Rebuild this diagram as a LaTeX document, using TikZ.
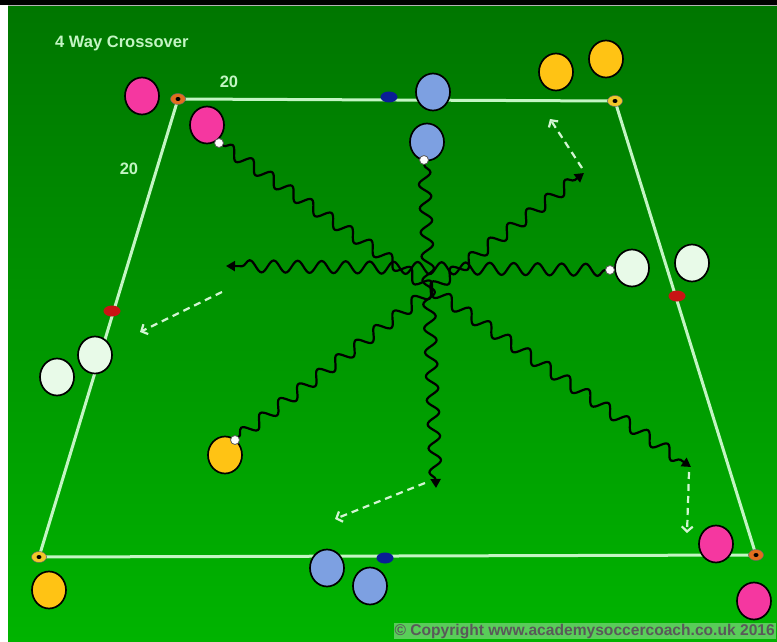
\documentclass[tikz,border=0pt]{standalone}
\usepackage{fontspec}
\setmainfont{Liberation Sans}
\usetikzlibrary{decorations.pathmorphing,arrows.meta,shapes.geometric}
\definecolor{gtop}{RGB}{0,118,0}
\definecolor{gbot}{RGB}{0,180,0}
\definecolor{lineg}{RGB}{195,245,195}
\definecolor{pinkp}{RGB}{245,55,160}
\definecolor{bluep}{RGB}{125,160,225}
\definecolor{yellowp}{RGB}{255,195,20}
\definecolor{whitep}{RGB}{232,250,232}
\definecolor{conered}{RGB}{200,20,20}
\definecolor{coneblue}{RGB}{10,30,150}
\definecolor{coneorange}{RGB}{225,110,30}
\definecolor{coneyellow}{RGB}{240,200,40}
\definecolor{dashg}{RGB}{210,245,210}
\tikzset{
  player/.style={ellipse, draw=black, line width=1.7pt, minimum width=34pt, minimum height=37pt, inner sep=0pt},
  ball/.style={circle, draw=gray!70!black, fill=white, line width=0.8pt, minimum size=9pt, inner sep=0pt},
  cone/.style={ellipse, minimum width=17pt, minimum height=11pt, inner sep=0pt},
  corner/.style={ellipse, minimum width=15pt, minimum height=11pt, inner sep=0pt, draw=black!60, line width=0.5pt},
  fieldline/.style={draw=lineg, line width=3pt},
  wavy/.style={draw=black, line width=2.2pt, decorate, decoration={snake, amplitude=6pt, segment length=24pt, post length=8pt}, -{Triangle[length=9pt,width=10pt]}},
  run/.style={draw=dashg, line width=2.2pt, dash pattern=on 7pt off 5pt, -{Straight Barb[length=5pt,width=11pt]}},
  lbl/.style={text=lineg, font=\bfseries\fontsize{16.5}{18}\selectfont, inner sep=0pt}
}
\begin{document}
\begin{tikzpicture}[x=1pt,y=-1pt]
\useasboundingbox (0,0) rectangle (777,642);
\clip (0,0) rectangle (777,642);
\fill[white] (0,0) rectangle (777,642);
\fill[black] (0,0) rectangle (777,5);
\fill[black!30] (8,5) rectangle (777,7);
\shade[top color=gtop, bottom color=gbot] (8,7) rectangle (777,642);

% title and labels
\node[lbl, anchor=west] (title) at (55,43) {4 Way Crossover};
\node[lbl] (l20a) at (229,82) {20};
\node[lbl] (l20b) at (129,169) {20};

% field corners
\coordinate (TL) at (178,99);
\coordinate (TR) at (615,101);
\coordinate (BR) at (756,555);
\coordinate (BL) at (39,557);
\draw[fieldline] (TL) -- (TR) -- (BR) -- (BL) -- cycle;

% cones
\node[corner, fill=coneorange] (cTL) at (TL) {};
\node[corner, fill=coneyellow] (cTR) at (TR) {};
\node[corner, fill=coneorange] (cBR) at (BR) {};
\node[corner, fill=coneyellow] (cBL) at (BL) {};
\foreach \c in {cTL,cTR,cBR,cBL}{\fill[black] (\c.center) ellipse (2.5pt and 2pt);}
\node[cone, fill=coneblue] (mT) at (389,97) {};
\node[cone, fill=coneblue] (mB) at (385,558) {};
\node[cone, fill=conered] (mL) at (112,311) {};
\node[cone, fill=conered] (mR) at (677,296) {};

% players
\node[player, fill=pinkp] (pk1) at (142,96) {};
\node[player, fill=pinkp] (pk2) at (207,125) {};
\node[player, fill=pinkp] (pk3) at (716,544) {};
\node[player, fill=pinkp] (pk4) at (754,601) {};
\node[player, fill=bluep] (bl1) at (433,92) {};
\node[player, fill=bluep] (bl2) at (427,142) {};
\node[player, fill=bluep] (bl3) at (327,568) {};
\node[player, fill=bluep] (bl4) at (370,586) {};
\node[player, fill=yellowp] (ye1) at (556,72) {};
\node[player, fill=yellowp] (ye2) at (606,59) {};
\node[player, fill=yellowp] (ye3) at (225,455) {};
\node[player, fill=yellowp] (ye4) at (49,590) {};
\node[player, fill=whitep] (wh1) at (632,268) {};
\node[player, fill=whitep] (wh2) at (692,263) {};
\node[player, fill=whitep] (wh3) at (95,355) {};
\node[player, fill=whitep] (wh4) at (57,377) {};

% balls
\node[ball] (b1) at (219,143) {};
\node[ball] (b2) at (424,160) {};
\node[ball] (b3) at (610,270) {};
\node[ball] (b4) at (235,440) {};

% dribble ends
\coordinate (e1) at (691,467);
\coordinate (e2) at (436,488);
\coordinate (e3) at (226,266);
\coordinate (e4) at (584,173);
\draw[wavy] (b1) -- (e1);
\draw[wavy] (b2) -- (e2);
\draw[wavy] (b3) -- (e3);
\draw[wavy] (b4) -- (e4);

% runs
\coordinate (r1s) at (582,168); \coordinate (r1e) at (550,119);
\coordinate (r2s) at (222,292); \coordinate (r2e) at (140,332);
\coordinate (r3s) at (425,483); \coordinate (r3e) at (335,519);
\coordinate (r4s) at (689,472); \coordinate (r4e) at (687,533);
\draw[run] (r1s) -- (r1e);
\draw[run] (r2s) -- (r2e);
\draw[run] (r3s) -- (r3e);
\draw[run] (r4s) -- (r4e);

% copyright
\node[anchor=east, inner sep=1pt, fill=white, fill opacity=0.35, text opacity=1, text=black!65, font=\bfseries\fontsize{15.6}{17}\selectfont] (copy) at (776,631) {© Copyright www.academysoccercoach.co.uk 2016};
\end{tikzpicture}
\end{document}
